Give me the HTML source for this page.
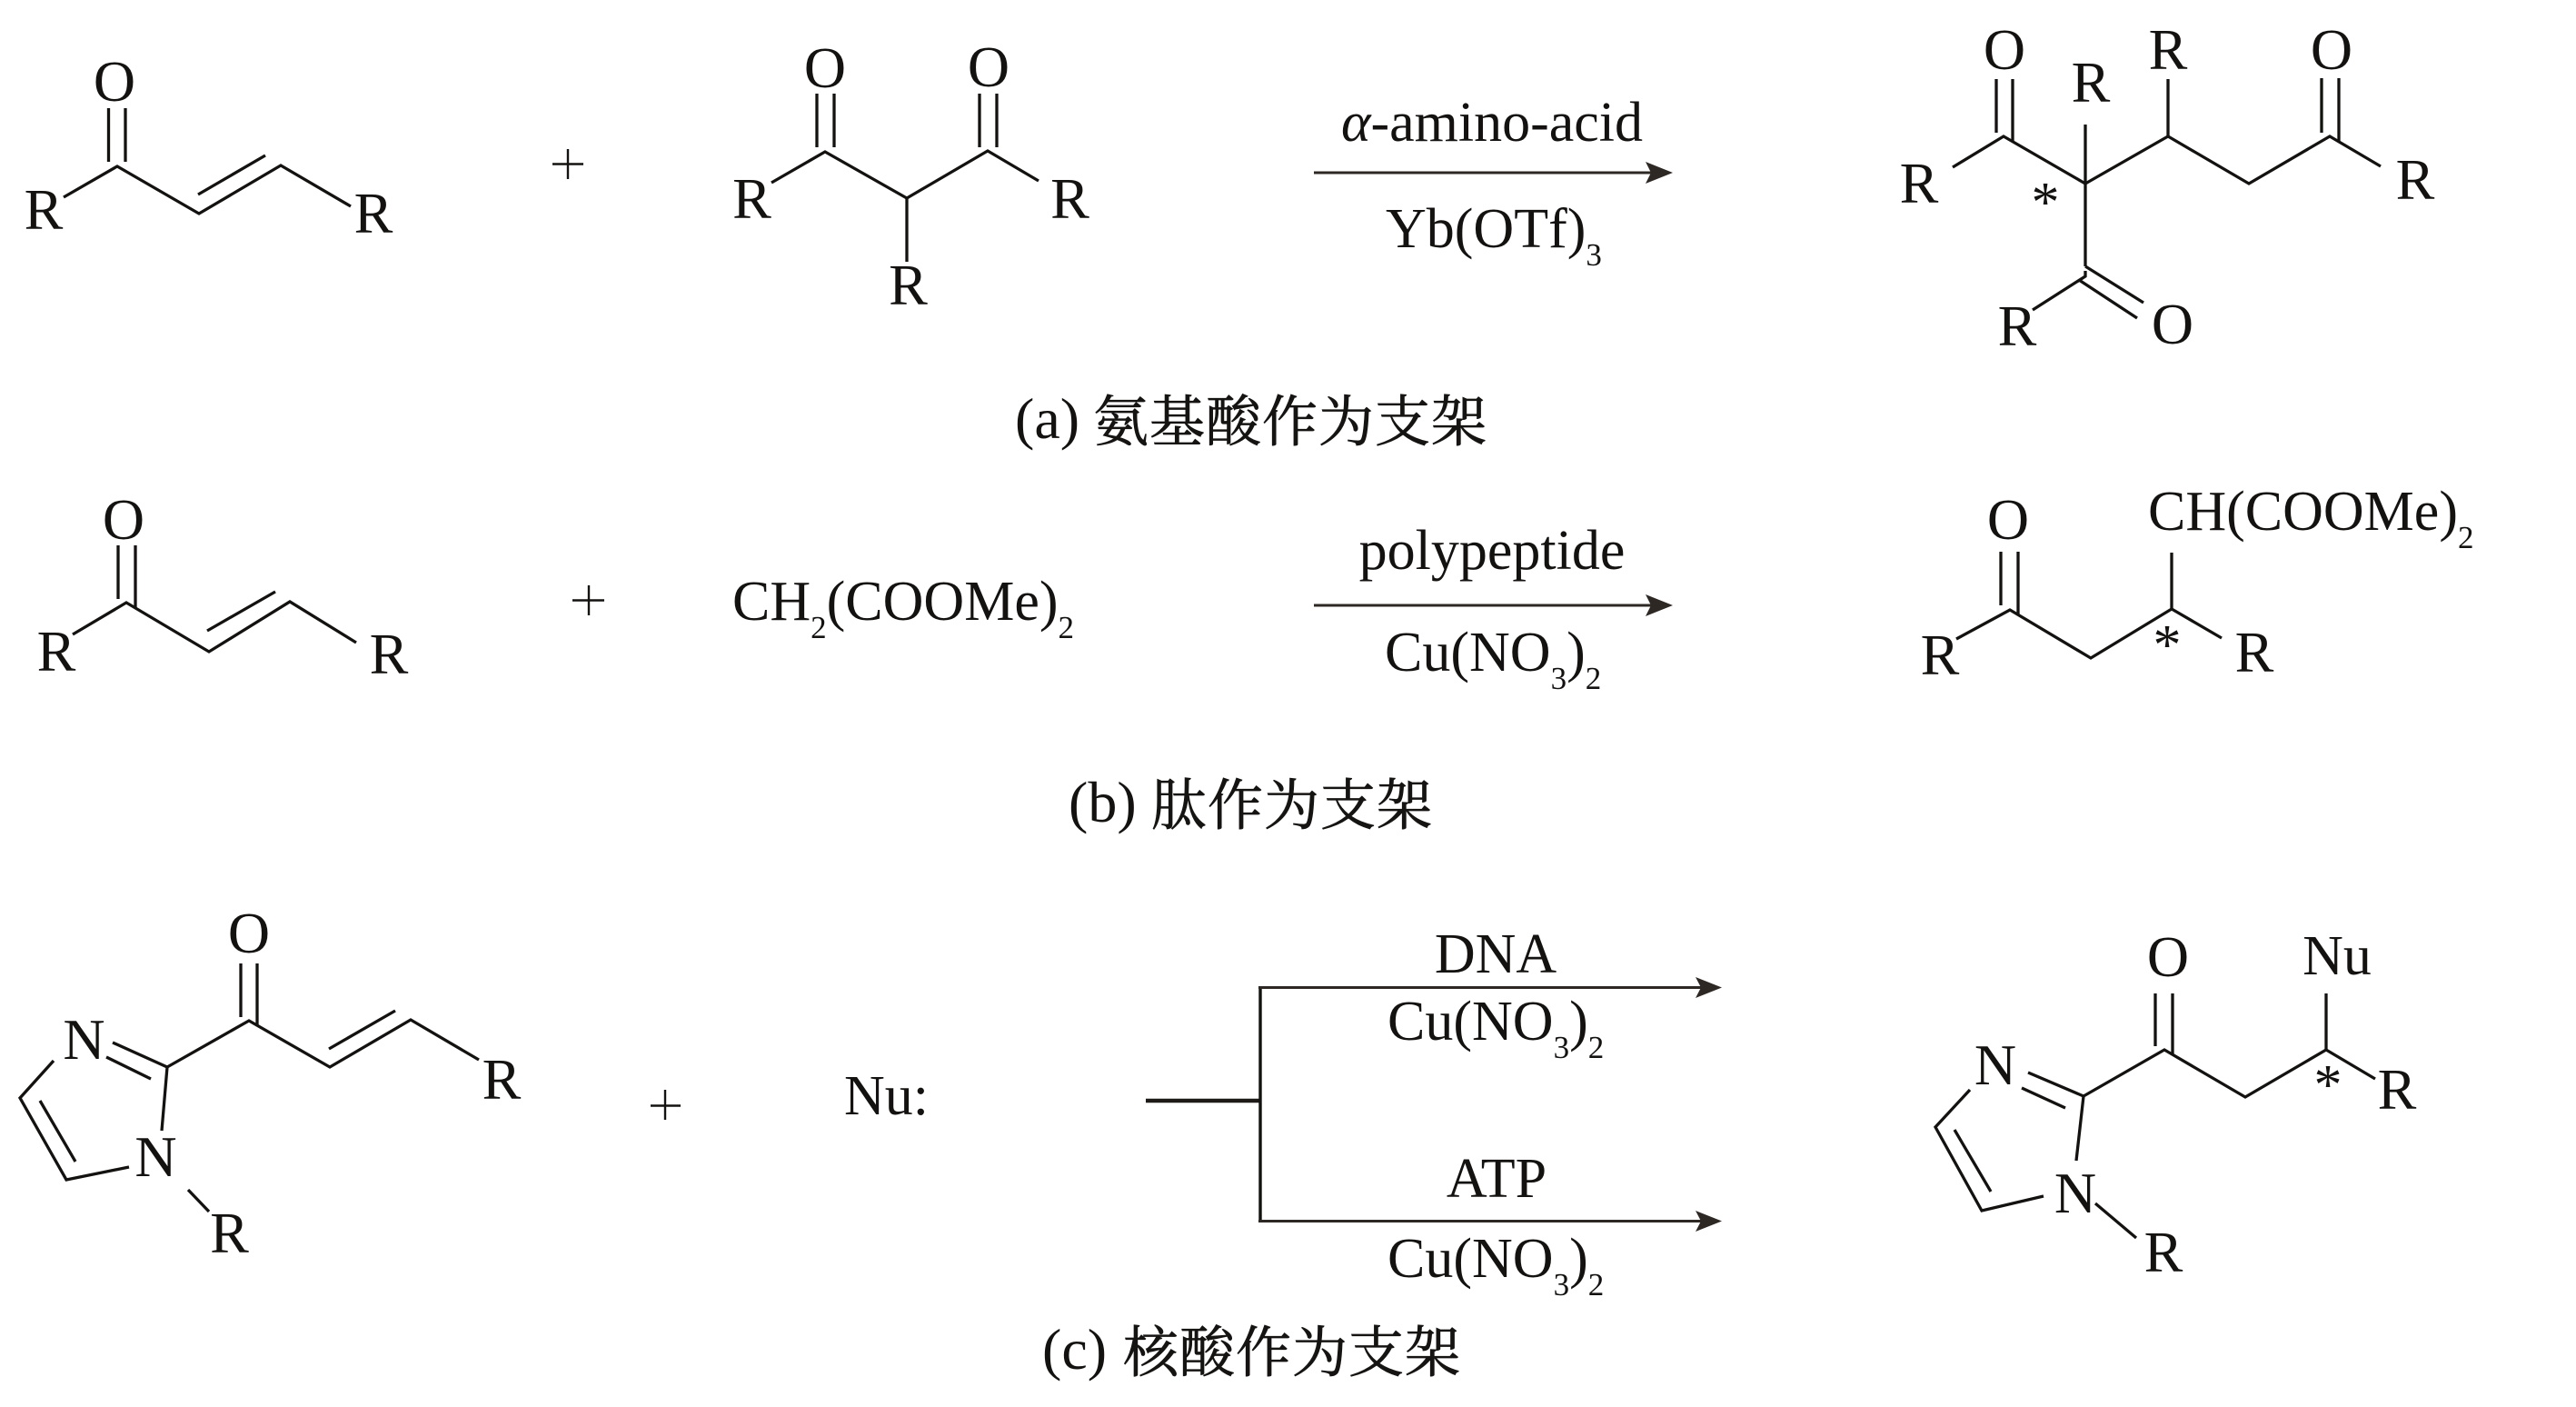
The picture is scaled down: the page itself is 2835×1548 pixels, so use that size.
<!DOCTYPE html>
<html lang="zh"><head><meta charset="utf-8"><title>Diagram</title>
<style>
html,body{margin:0;padding:0;background:#fff;width:2835px;height:1548px;overflow:hidden}
svg{display:block}
text{font-family:"Liberation Serif","Noto Serif CJK SC",serif;fill:#141210;font-size:64px}
.m{text-anchor:middle}
.r{font-size:62px}
.a{font-size:62px;text-anchor:middle}
.c{font-family:"Noto Serif CJK SC","Liberation Serif",serif;font-size:61px;fill:#161412;stroke:#161412;stroke-width:.7px}
.s{font-size:35px}
.b{fill:none;stroke:#141210;stroke-width:3.3;stroke-linejoin:miter;stroke-linecap:butt}
.t{fill:none;stroke:#141210;stroke-width:2.4}
.w{fill:none;stroke:#2e2824;stroke-width:3}
.h{fill:#2e2824;stroke:none}
</style></head><body>
<svg xmlns="http://www.w3.org/2000/svg" width="2835" height="1548" viewBox="0 0 2835 1548">
<rect width="2835" height="1548" fill="#fff"/>

<!-- (a) reactant 1 -->
<g class="b"><path d="M70 217L129 183L219 235L309 182L386 227"/><path d="M218 214L292 171"/><path d="M119.500 119V178M138 119V178"/></g>
<text class="m" x="126" y="111">O</text>
<text class="m" x="48" y="252">R</text>
<text class="m" x="411" y="256">R</text>
<path class="t" d="M625 164V197M608 180.500H642"/>

<!-- (a) reactant 2 -->
<g class="b"><path d="M849 201L908 167L998 218L1087 166L1143 199"/><path d="M998 218V288"/><path d="M899 103V162M918 103V162M1078 103V162M1097 103V162"/></g>
<text class="m" x="908" y="96">O</text>
<text class="m" x="1088" y="95">O</text>
<text class="m" x="827.500" y="240">R</text>
<text class="m" x="1177.500" y="240">R</text>
<text class="m" x="999.500" y="335">R</text>

<!-- (a) arrow -->
<path class="w" d="M1446 190H1820"/><path class="h" d="M1841 190L1811 178L1817 190L1811 202Z"/>
<text class="r m" x="1642" y="155"><tspan font-style="italic">α</tspan>-amino-acid</text>
<text class="r" x="1525" y="272">Yb(OTf)<tspan class="s" dy="20">3</tspan></text>

<!-- (a) product -->
<g class="b"><path d="M2149 184L2205 150L2295 202L2386 150L2475 202L2564 150L2620 183"/><path d="M2295 137V293"/><path d="M2386 87V150"/><path d="M2197 87V146M2215 87V156M2555 86V146M2574 86V156"/><path d="M2295 293L2359 333M2288 308L2352 350M2295 298V304L2237 341"/></g>
<text class="m" x="2206" y="76">O</text>
<text class="m" x="2386" y="76">R</text>
<text class="m" x="2301" y="112">R</text>
<text class="m" x="2566" y="76">O</text>
<text class="m" x="2112" y="223">R</text>
<text class="m" x="2658" y="219">R</text>
<text class="m" x="2220" y="380">R</text>
<text class="m" x="2391" y="378">O</text>
<text class="a" x="2251" y="243">*</text>

<text x="1117" y="482">(a)</text>
<text class="c" x="1203 1265 1327 1389 1451 1513 1575" y="485">氨基酸作为支架</text>

<!-- (b) reactant -->
<g class="b"><path d="M80 698L139 663L230 717L319 662L392 707"/><path d="M228 694L303 651"/><path d="M130 600V659M149 600V669"/></g>
<text class="m" x="136" y="593">O</text>
<text class="m" x="62" y="738">R</text>
<text class="m" x="428" y="741">R</text>
<path class="t" d="M648 644V677M630 660.500H665"/>
<text class="r" x="806" y="682">CH<tspan class="s" dy="20">2</tspan><tspan dy="-20">(COOMe)</tspan><tspan class="s" dy="20">2</tspan></text>

<!-- (b) arrow -->
<path class="w" d="M1446 666H1820"/><path class="h" d="M1841 666L1811 654L1817 666L1811 678Z"/>
<text class="r m" x="1642" y="626">polypeptide</text>
<text class="r" x="1524" y="738">Cu(NO<tspan class="s" dy="20">3</tspan><tspan dy="-20">)</tspan><tspan class="s" dy="20">2</tspan></text>

<!-- (b) product -->
<g class="b"><path d="M2153 703L2212 671L2301 724L2390 670L2445 702"/><path d="M2390 608V670"/><path d="M2202 607V666M2221 607V676"/></g>
<text class="m" x="2210" y="593">O</text>
<text class="m" x="2135" y="742">R</text>
<text class="m" x="2481" y="739">R</text>
<text class="a" x="2385" y="730">*</text>
<text class="r" x="2364" y="583">CH(COOMe)<tspan class="s" dy="20">2</tspan></text>

<text x="1176" y="904">(b)</text>
<text class="c" x="1267 1329 1391 1453 1515" y="907">肽作为支架</text>

<!-- (c) reactant -->
<g class="b"><path d="M184 1174L274 1123L363 1174L452 1122L527 1166"/><path d="M362 1154L435 1112"/><path d="M265 1060V1119M283 1060V1129"/>
<path d="M124 1147L184 1174L178 1244M117 1163L166 1187"/><path d="M59 1167L22 1208L73 1298L142 1284"/><path d="M44 1211L83 1278"/><path d="M207 1309L230 1333"/></g>
<text class="m" x="274" y="1048">O</text>
<text class="m" x="92.500" y="1165">N</text>
<text class="m" x="171.500" y="1294">N</text>
<text class="m" x="252.500" y="1378">R</text>
<text class="m" x="552" y="1209">R</text>
<path class="t" d="M732 1199V1232M716 1216.500H749"/>
<text class="r" x="929" y="1226">Nu:</text>

<!-- (c) forked arrows -->
<path d="M1261 1211H1387" fill="none" stroke="#1e1a18" stroke-width="4.500"/>
<path d="M1387 1085V1345" fill="none" stroke="#141210" stroke-width="3.400"/>
<path class="w" d="M1385 1086.500H1875M1385 1343.500H1875"/>
<path class="h" d="M1895 1086.500L1866 1075L1872 1086.500L1866 1098Z"/>
<path class="h" d="M1895 1343.500L1866 1332L1872 1343.500L1866 1355Z"/>
<text class="r m" x="1646" y="1070">DNA</text>
<text class="r" x="1527" y="1144">Cu(NO<tspan class="s" dy="20">3</tspan><tspan dy="-20">)</tspan><tspan class="s" dy="20">2</tspan></text>
<text class="r m" x="1647" y="1317">ATP</text>
<text class="r" x="1527" y="1405">Cu(NO<tspan class="s" dy="20">3</tspan><tspan dy="-20">)</tspan><tspan class="s" dy="20">2</tspan></text>

<!-- (c) product -->
<g class="b"><path d="M2293 1206L2382 1155L2471 1207L2560 1155L2614 1187"/><path d="M2560 1093V1155"/><path d="M2372 1093V1151M2391 1093V1161"/>
<path d="M2232 1180L2293 1206L2285 1277M2225 1197L2273 1219"/><path d="M2168 1199L2130 1240L2181 1332L2249 1316"/><path d="M2151 1243L2191 1311"/><path d="M2306 1324L2351 1362"/></g>
<text class="m" x="2386" y="1074">O</text>
<text class="r m" x="2572" y="1072">Nu</text>
<text class="m" x="2196" y="1193">N</text>
<text class="m" x="2284" y="1334">N</text>
<text class="m" x="2381" y="1399">R</text>
<text class="m" x="2638" y="1220">R</text>
<text class="a" x="2562" y="1214">*</text>

<text x="1147" y="1506">(c)</text>
<text class="c" x="1236 1298 1360 1422 1484 1546" y="1509">核酸作为支架</text>
</svg>
</body></html>
